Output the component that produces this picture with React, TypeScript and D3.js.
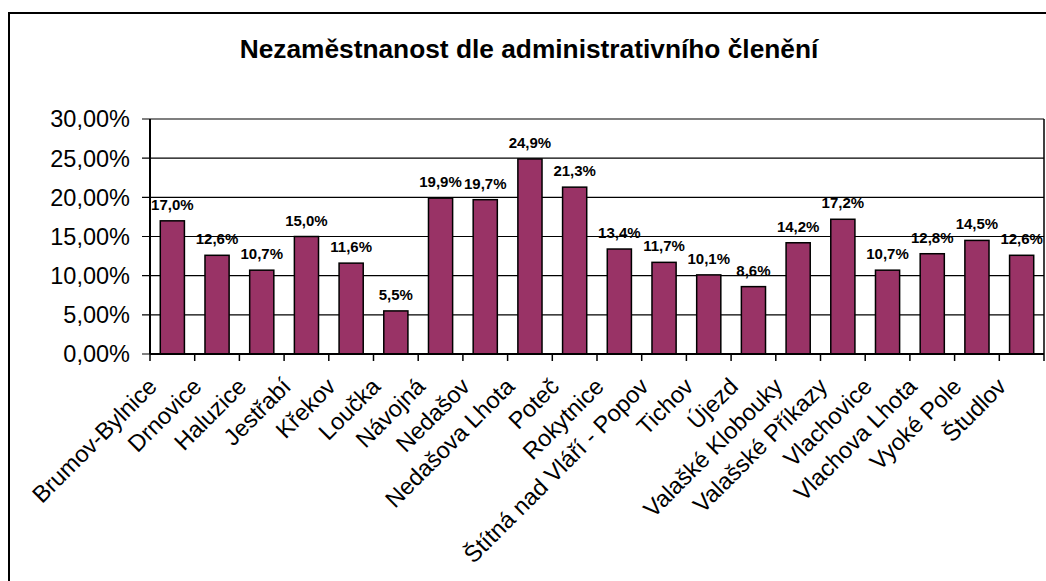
import React from "react";
import * as d3 from "d3";

// chart data
const categories = [
  "Brumov-Bylnice", "Drnovice", "Haluzice", "Jestřabí", "Křekov", "Loučka",
  "Návojná", "Nedašov", "Nedašova Lhota", "Poteč", "Rokytnice",
  "Štítná nad Vláří - Popov", "Tichov", "Újezd", "Valašké Klobouky",
  "Valašské Příkazy", "Vlachovice", "Vlachova Lhota", "Vyoké Pole", "Študlov",
];
const values = [
  17.0, 12.6, 10.7, 15.0, 11.6, 5.5, 19.9, 19.7, 24.9, 21.3,
  13.4, 11.7, 10.1, 8.6, 14.2, 17.2, 10.7, 12.8, 14.5, 12.6,
];
const yTicks = [0, 5, 10, 15, 20, 25, 30];
const title = "Nezaměstnanost dle administrativního členění";

const W = 1046;
const H = 581;
const plot = { left: 150, right: 1044, top: 119, bottom: 354 };
const font = "'Liberation Sans', Arial, sans-serif";

const App = () => {
  const x = d3
    .scaleBand<string>()
    .domain(categories)
    .range([plot.left, plot.right])
    .paddingInner(0.46)
    .paddingOuter(0.23);
  const step = x.step();
  const y = d3.scaleLinear().domain([0, 30]).range([plot.bottom, plot.top]);

  const fmtTick = (v: number) => v.toFixed(2).replace(".", ",") + "%";
  const fmtVal = (v: number) => v.toFixed(1).replace(".", ",") + "%";

  return (
    <svg
      width={W}
      height={H}
      style={{ position: "absolute", left: 0, top: 0, background: "#fff" }}
    >
      {/* outer chart border, cut off by the picture at right and bottom */}
      <rect x={9} y={13} width={1200} height={700} fill="#fff" stroke="#000" strokeWidth={2} />

      <text
        x={529}
        y={58}
        textAnchor="middle"
        fontFamily={font}
        fontWeight="bold"
        fontSize={26.3}
      >
        {title}
      </text>

      {/* gridlines */}
      {yTicks.map((t) => (
        <line
          key={"g" + t}
          x1={plot.left - 8}
          x2={plot.right}
          y1={y(t)}
          y2={y(t)}
          stroke="#000"
          strokeWidth={1.2}
        />
      ))}
      {yTicks.map((t) => (
        <text
          key={"yl" + t}
          x={plot.left - 20}
          y={y(t)}
          dy="0.36em"
          textAnchor="end"
          fontFamily={font}
          fontSize={23.5}
        >
          {fmtTick(t)}
        </text>
      ))}

      {/* bars */}
      {categories.map((c, i) => (
        <rect
          key={"b" + c}
          x={x(c)}
          y={y(values[i])}
          width={x.bandwidth()}
          height={y(0) - y(values[i])}
          fill="#993366"
          stroke="#000"
          strokeWidth={1.5}
        />
      ))}
      {categories.map((c, i) => (
        <text
          key={"v" + c}
          x={(x(c) as number) + x.bandwidth() / 2}
          y={y(values[i]) - 11}
          textAnchor="middle"
          fontFamily={font}
          fontWeight="bold"
          fontSize={15}
        >
          {fmtVal(values[i])}
        </text>
      ))}

      {/* plot frame */}
      <line x1={plot.left} x2={plot.left} y1={plot.top} y2={plot.bottom} stroke="#000" strokeWidth={2} />
      <line x1={plot.right} x2={plot.right} y1={plot.top} y2={plot.bottom} stroke="#000" strokeWidth={1.5} />
      <line x1={plot.left} x2={plot.right} y1={plot.bottom} y2={plot.bottom} stroke="#000" strokeWidth={2} />

      {/* x ticks at band boundaries */}
      {d3.range(categories.length + 1).map((i) => (
        <line
          key={"xt" + i}
          x1={plot.left + i * step}
          x2={plot.left + i * step}
          y1={plot.bottom}
          y2={plot.bottom + 7}
          stroke="#000"
          strokeWidth={1.5}
        />
      ))}

      {/* rotated category labels */}
      {categories.map((c) => {
        const cx = (x(c) as number) + x.bandwidth() / 2 - 14;
        const cy = plot.bottom + 34;
        return (
          <text
            key={"xl" + c}
            transform={`translate(${cx},${cy}) rotate(-45)`}
            textAnchor="end"
            fontFamily={font}
            fontSize={23.5}
          >
            {c}
          </text>
        );
      })}
    </svg>
  );
};

export default App;
